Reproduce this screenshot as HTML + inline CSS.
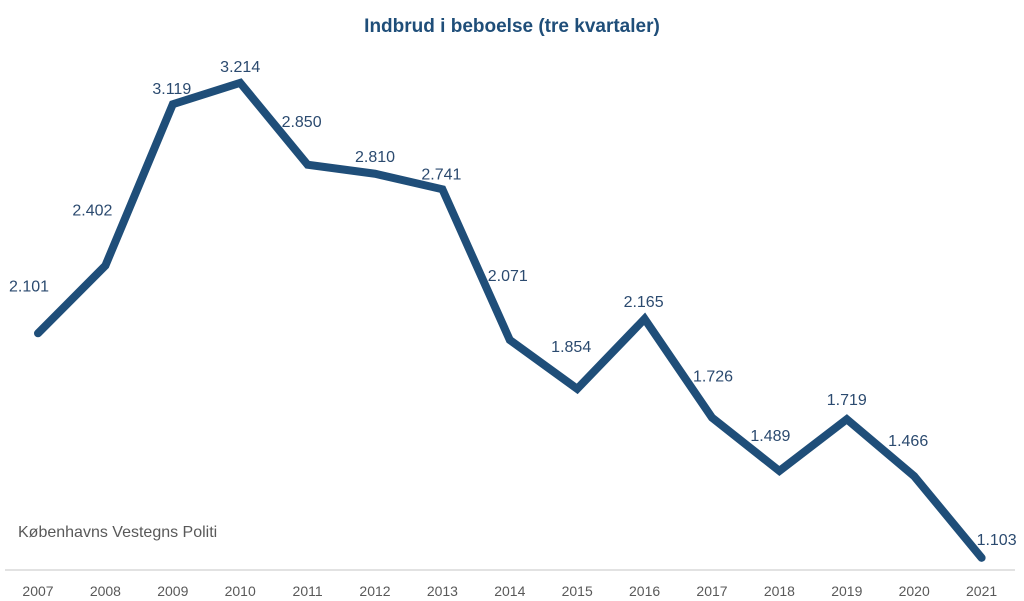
<!DOCTYPE html>
<html><head><meta charset="utf-8"><style>
html,body{margin:0;padding:0;background:#fff;}
svg{display:block;font-family:"Liberation Sans",sans-serif;}
</style></head><body>
<svg id="chart" width="1024" height="601" viewBox="0 0 1024 601">
<text x="512" y="32" text-anchor="middle" font-size="19" font-weight="bold" fill="#1f4e79">Indbrud i beboelse (tre kvartaler)</text>
<text x="18" y="537" font-size="16" fill="#595959">Københavns Vestegns Politi</text>
<line x1="5" y1="570" x2="1015" y2="570" stroke="#d9d9d9" stroke-width="1.5"/>
<g id="marks"></g>
</svg>
<script>
const years = ["2007","2008","2009","2010","2011","2012","2013","2014","2015","2016","2017","2018","2019","2020","2021"];
const values = [2101,2402,3119,3214,2850,2810,2741,2071,1854,2165,1726,1489,1719,1466,1103];
const valueLabels = ["2.101","2.402","3.119","3.214","2.850","2.810","2.741","2.071","1.854","2.165","1.726","1.489","1.719","1.466","1.103"];
const labelDx = [-9,-13,-1,0,-6,0,-1,-2,-6,-1,1,-9,0,-6,15];
const labelDy = [-48,-56,-16,-17,-44,-18,-16,-65,-43,-18,-42,-36,-20,-36,-19];

const svgNS = "http://www.w3.org/2000/svg";
const g = document.getElementById("marks");
function xScale(i){ return 38 + i*67.4; }
function yScale(v){ return 806 - v*0.225; }

const pts = values.map((v,i)=>xScale(i)+","+yScale(v)).join(" ");
const line = document.createElementNS(svgNS,"polyline");


line.setAttribute("points", pts);
line.setAttribute("fill","none");
line.setAttribute("stroke","#1f4e79");
line.setAttribute("stroke-width","8");
line.setAttribute("stroke-linejoin","miter");
line.setAttribute("stroke-linecap","round");
g.appendChild(line);

values.forEach((v,i)=>{
  const t = document.createElementNS(svgNS,"text");
  
  
  t.setAttribute("x", xScale(i)+labelDx[i]);
  t.setAttribute("y", yScale(v)+labelDy[i]+6);
  t.setAttribute("text-anchor","middle");
  t.setAttribute("font-size","16");
  t.setAttribute("fill","#2b4a6f");
  t.textContent = valueLabels[i];
  g.appendChild(t);

  const yl = document.createElementNS(svgNS,"text");
  
  
  yl.setAttribute("x", xScale(i));
  yl.setAttribute("y", 596);
  yl.setAttribute("text-anchor","middle");
  yl.setAttribute("font-size","14");
  yl.setAttribute("fill","#595959");
  yl.textContent = years[i];
  g.appendChild(yl);
});
</script>
</body></html>
